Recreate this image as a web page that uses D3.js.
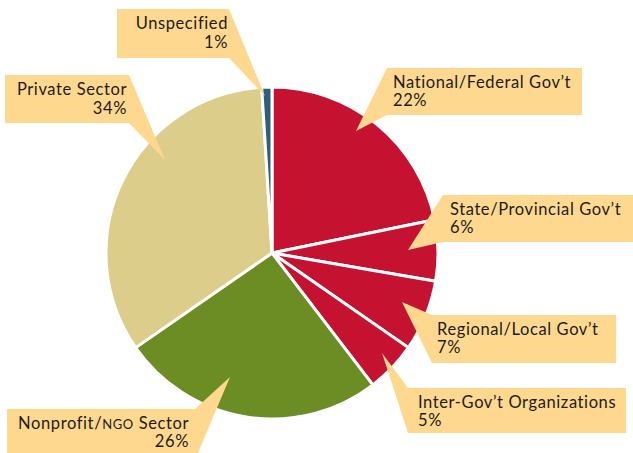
<!DOCTYPE html>
<html>
<head>
<meta charset="utf-8">
<script src="https://cdn.jsdelivr.net/npm/d3@7"></script>
<style>
  body { margin: 0; background: #fff; }
  svg { display: block; }
  text { font-family: "Lato", "Noto Sans", sans-serif; font-size: 16.5px; letter-spacing: 0.6px; fill: #1c1c1c; }
</style>
</head>
<body>
<div id="chart"></div>
<script>
// sectors, clockwise from 12 o'clock
var sectors = ["National/Federal Gov\u2019t", "State/Provincial Gov\u2019t", "Regional/Local Gov\u2019t",
               "Inter-Gov\u2019t Organizations", "Nonprofit/NGO Sector", "Private Sector", "Unspecified"];
var shares = [22, 6, 7, 5, 26, 34, 1];
var colors = ["#c41230", "#c41230", "#c41230", "#c41230", "#6c8c24", "#dccd8a", "#2e5e7d"];

var width = 633, height = 453;
var cx = 272, cy = 253, r = 166;

var svg = d3.select("#chart").append("svg")
    .attr("width", width).attr("height", height);

var pie = d3.pie().sort(null).value(function (d) { return d; });
var arc = d3.arc().innerRadius(0).outerRadius(r);
var arcs = pie(shares);

svg.append("g").attr("transform", "translate(" + cx + "," + cy + ")")
  .selectAll("path").data(arcs).enter().append("path")
    .attr("d", arc)
    .style("fill", function (d, i) { return colors[i]; })
    .style("stroke", "#fff").style("stroke-width", 3).style("stroke-linejoin", "round");

// callout boxes: box rect + pointer tip, text anchor
var callouts = [
  { box: [387, 68, 582, 115], tip: [356, 131], side: "left", lines: [88, 106], x: 393, anchor: "start" },
  { box: [443, 195, 640, 242], tip: [408, 250], side: "left", lines: [215, 233], x: 450, anchor: "start" },
  { box: [432, 315, 616, 363], tip: [402, 302], side: "left", lines: [335, 353], x: 437, anchor: "start" },
  { box: [408, 388, 626, 433], tip: [382, 353], side: "left", lines: [408, 426], x: 418, anchor: "start" },
  { box: [7, 409, 195, 460], tip: [230, 377], side: "right", lines: [429, 447], x: 189, anchor: "end" },
  { box: [5, 75, 129, 123], tip: [165, 160], side: "right", lines: [95, 114], x: 127, anchor: "end" },
  { box: [117, 9, 229, 58], tip: [265, 96], side: "right", lines: [29, 48], x: 228, anchor: "end" }
];

function calloutPath(c) {
  var x0 = c.box[0], y0 = c.box[1], x1 = c.box[2], y1 = c.box[3];
  var p;
  if (c.side == "left") {
    p = [[x0, y0], [x1, y0], [x1, y1], [x0, y1], c.tip];
  } else {
    p = [[x0, y0], [x1, y0], c.tip, [x1, y1], [x0, y1]];
  }
  return d3.line()(p) + "Z";
}

var g = svg.append("g");
callouts.forEach(function (c, i) {
  g.append("path").attr("d", calloutPath(c)).style("fill", "#fed88f");
  var name = sectors[i];
  var t1 = g.append("text").attr("x", c.x).attr("y", c.lines[0]).attr("text-anchor", c.anchor);
  if (name.indexOf("NGO") >= 0) {
    var parts = name.split("NGO");
    t1.append("tspan").text(parts[0]);
    t1.append("tspan").style("font-size", "13px").text("NGO");
    t1.append("tspan").text(parts[1]);
  } else {
    t1.text(name);
  }
  g.append("text").attr("x", c.x).attr("y", c.lines[1]).attr("text-anchor", c.anchor)
    .text(shares[i] + "%");
});
</script>
</body>
</html>
